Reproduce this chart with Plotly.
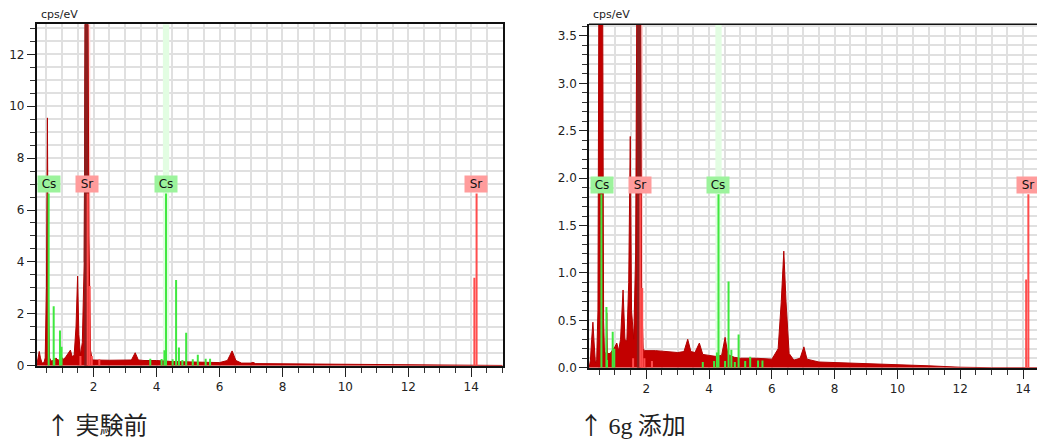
import plotly.graph_objects as go

# ---------------- data: 実験前 (left) ----------------
energy_before = [0.19, 0.22, 0.27, 0.31, 0.36, 0.42, 0.46, 0.50, 0.53, 0.56, 0.60, 0.65, 0.72, 0.80, 0.88,
                 0.95, 1.00, 1.05, 1.12, 1.20, 1.26, 1.32, 1.38, 1.44, 1.49, 1.53, 1.58, 1.64, 1.70, 1.73,
                 1.78, 1.82, 1.85, 1.87, 1.90, 1.95, 2.0, 2.5, 3.0, 3.2, 3.32, 3.42, 3.6, 4.0, 4.5, 5.0,
                 5.5, 6.0, 6.25, 6.4, 6.52, 6.7, 7.0, 7.06, 7.15, 8.0, 9.0, 10.0, 11.0, 12.0, 13.0, 15.0]
cps_before = [0.0, 0.25, 0.55, 0.3, 0.1, 0.12, 0.3, 3.0, 9.55, 3.0, 0.3, 0.18, 0.2, 0.3, 0.2,
              0.35, 0.3, 0.25, 0.35, 0.5, 0.6, 0.35, 0.4, 1.5, 3.45, 1.2, 0.4, 0.9, 4.0, 14.0,
              14.0, 14.0, 5.0, 3.0, 0.6, 0.25, 0.22, 0.21, 0.2, 0.22, 0.5, 0.22, 0.2, 0.2, 0.16, 0.15,
              0.13, 0.12, 0.2, 0.57, 0.2, 0.1, 0.1, 0.13, 0.08, 0.07, 0.06, 0.05, 0.03, 0.02, 0.01, 0.01]

cs_line_energy = [0.57, 0.73, 0.75, 0.93, 0.98, 3.80, 4.16, 4.25, 4.30, 4.51, 4.62, 4.71, 4.82, 4.94, 5.15, 5.31, 5.56, 5.70]
cs_line_before = [6.64, 2.29, 0.3, 1.36, 0.73, 0.27, 0.26, 0.6, 6.64, 0.25, 3.3, 0.7, 0.22, 1.27, 0.25, 0.42, 0.27, 0.27]
sr_line_energy = [1.58, 1.81, 1.87, 1.94, 2.18, 14.10, 14.17]
sr_line_before = [0.37, 6.64, 3.07, 0.37, 0.25, 3.39, 6.64]

# ---------------- data: 6g 添加 (right) ----------------
energy_added = [0.18, 0.22, 0.26, 0.30, 0.34, 0.38, 0.42, 0.46, 0.49, 0.55, 0.61, 0.64, 0.67, 0.72, 0.74,
                0.76, 0.85, 0.95, 1.00, 1.06, 1.12, 1.18, 1.26, 1.32, 1.38, 1.44, 1.49, 1.53, 1.60, 1.66,
                1.70, 1.82, 1.85, 1.90, 1.95, 2.3, 2.6, 3.0, 3.2, 3.32, 3.42, 3.55, 3.69, 3.8, 4.0, 4.2,
                4.4, 4.51, 4.6, 4.8, 5.0, 5.5, 6.0, 6.2, 6.3, 6.38, 6.45, 6.55, 6.7, 6.9, 7.02, 7.12,
                7.5, 8.0, 9.0, 10.0, 11.0, 12.0, 13.0, 14.7]
cps_added = [0.0, 0.08, 0.3, 0.48, 0.25, 0.05, 0.08, 0.6, 4.0, 4.0, 4.0, 0.5, 0.15, 0.16, 0.58,
             0.15, 0.15, 0.2, 0.22, 0.26, 0.18, 0.3, 0.82, 0.3, 0.28, 0.9, 2.44, 0.6, 0.3, 1.2,
             4.0, 4.0, 0.8, 0.2, 0.18, 0.18, 0.17, 0.16, 0.17, 0.30, 0.17, 0.16, 0.26, 0.14, 0.13, 0.12,
             0.13, 0.32, 0.14, 0.11, 0.1, 0.1, 0.09, 0.2, 0.7, 1.23, 0.7, 0.15, 0.08, 0.1, 0.22, 0.09,
             0.06, 0.055, 0.045, 0.035, 0.02, 0.005, 0.0, 0.0]

cs_line_added = [1.83, 0.64, 0.08, 0.38, 0.2, 0.06, 0.07, 0.16, 1.83, 0.07, 0.91, 0.19, 0.06, 0.35, 0.07, 0.115, 0.075, 0.075]
sr_line_added = [0.1, 1.83, 0.84, 0.1, 0.07, 0.93, 1.83]

# element labels
label_text = ["Cs", "Sr", "Cs", "Sr"]
label_energy_before = [0.57, 1.80, 4.30, 14.16]
label_energy_added = [0.58, 1.80, 4.29, 14.17]
label_height_before = 6.64
label_height_added = 1.83

# highlight bands (centre, half width)
band_element = ["Sr", "Cs"]
band_center = [1.81, 4.30]
band_half = [0.085, 0.10]

ARROW = "<span style='font-family:Noto Sans CJK JP'>↑</span>"
captions = [ARROW + " 実験前",
            ARROW + " <span style='font-family:Liberation Serif'>6g</span> 添加"]

SPEC_FILL = "#c20000"
SPEC_LINE = "#b00000"
CS_COLOR = "#3fe83f"
SR_COLOR = "#ff4d4d"
CS_BG = "#9cf39c"
SR_BG = "#ff9c9c"
BAND_COLOR = {"Cs": "#e2fde2", "Sr": "#ffd3d3"}


def stick_xy(energies, heights):
    xs, ys = [], []
    for e, h in zip(energies, heights):
        xs += [e, e, None]
        ys += [0, h, None]
    return xs, ys


fig = go.Figure()

panels = [
    ("x", "y", energy_before, cps_before, cs_line_before, sr_line_before, label_energy_before, label_height_before, 13.156),
    ("x2", "y2", energy_added, cps_added, cs_line_added, sr_line_added, label_energy_added, label_height_added, 3.623),
]

for xa, ya, en, cps, csh, srh, lab_e, lab_h, ytop in panels:
    # highlight bands as filled traces behind the spectrum
    for el, c, hw in zip(band_element, band_center, band_half):
        fig.add_trace(go.Scatter(x=[c - hw, c - hw, c + hw, c + hw, c - hw], y=[0, ytop, ytop, 0, 0],
                                 xaxis=xa, yaxis=ya, mode="none", fill="toself",
                                 fillcolor=BAND_COLOR[el], hoverinfo="skip", showlegend=False))
    fig.add_trace(go.Scatter(x=en, y=cps, xaxis=xa, yaxis=ya, mode="lines", fill="tozeroy",
                             fillcolor=SPEC_FILL, line=dict(color=SPEC_LINE, width=1),
                             hoverinfo="skip", showlegend=False))
    # darker Sr peak region
    pk = [(e, c) for e, c in zip(en, cps) if 1.70 <= e <= 1.84]
    fig.add_trace(go.Scatter(x=[p[0] for p in pk], y=[p[1] for p in pk], xaxis=xa, yaxis=ya, mode="lines",
                             fill="tozeroy", fillcolor="#8e1e1e", line=dict(color="#8e1e1e", width=1),
                             hoverinfo="skip", showlegend=False))
    sx, sy = stick_xy(cs_line_energy, csh)
    fig.add_trace(go.Scatter(x=sx, y=sy, xaxis=xa, yaxis=ya, mode="lines",
                             line=dict(color=CS_COLOR, width=2), hoverinfo="skip", showlegend=False))
    sx, sy = stick_xy(sr_line_energy, srh)
    fig.add_trace(go.Scatter(x=sx, y=sy, xaxis=xa, yaxis=ya, mode="lines",
                             line=dict(color=SR_COLOR, width=2), hoverinfo="skip", showlegend=False))
    for t, e in zip(label_text, lab_e):
        fig.add_annotation(x=e, y=lab_h, xref=xa, yref=ya, text=t, showarrow=False,
                           xanchor="center", yanchor="bottom", bgcolor=CS_BG if t == "Cs" else SR_BG,
                           borderpad=1, borderwidth=1, bordercolor="rgba(0,0,0,0)", width=20,
                           font=dict(family="DejaVu Sans", size=12, color="#111"))

grid = "#e0e0e0"
tickfont = dict(family="DejaVu Sans", size=12, color="#222")


def xax(domain, rng, mirror):
    return dict(domain=domain, range=rng, tickmode="linear", tick0=0, dtick=2, ticks="outside",
                ticklen=9, tickwidth=1.3, tickcolor="#222", showgrid=True, gridcolor=grid, gridwidth=1.5,
                minor=dict(tick0=0, dtick=0.5, ticks="outside", ticklen=5, tickwidth=1.2, tickcolor="#333",
                           showgrid=True, gridcolor=grid, gridwidth=1.5),
                showline=True, linecolor="#111", linewidth=1.6, mirror=mirror, zeroline=False,
                tickfont=tickfont, fixedrange=True, automargin=False)


def yax(domain, rng, dtick, minor, fmt, anchor, mirror):
    return dict(domain=domain, range=rng, anchor=anchor, tickmode="linear", tick0=0, dtick=dtick,
                ticks="outside", ticklen=8, tickwidth=1.3, tickcolor="#222", tickformat=fmt,
                showgrid=True, gridcolor=grid, gridwidth=1.5,
                minor=dict(tick0=0, dtick=minor, ticks="outside", ticklen=5, tickwidth=1.2, tickcolor="#333",
                           showgrid=True, gridcolor=grid, gridwidth=1.5),
                showline=True, linecolor="#111", linewidth=1.6, mirror=mirror, zeroline=False,
                tickfont=tickfont, fixedrange=True, automargin=False)


# the page places the figure 8 px from the top-left corner, so work in page pixels minus 8
OFF = 8
W, H = 1045 - OFF, 441 - OFF
xl = [(36.7 - OFF) / W, (502.7 - OFF) / W]
xr = [(589 - OFF) / W, 1.0]
yl = [1 - (365.7 - OFF) / H, 1 - (24.3 - OFF) / H]
yr = [1 - (367.7 - OFF) / H, 1 - (24.3 - OFF) / H]

fig.update_layout(
    width=W, height=H, autosize=False,
    margin=dict(l=0, r=0, t=0, b=0, pad=0),
    paper_bgcolor="white", plot_bgcolor="white",
    xaxis=dict(xax(xl, [0.19, 15.0], True), anchor="y"),
    yaxis=yax(yl, [0, 13.156], 2, 0.5, "d", "x", True),
    xaxis2=dict(xax(xr, [0.175, 14.70], False), anchor="y2"),
    yaxis2=yax(yr, [0, 3.623], 0.5, 0.1, ".1f", "x2", False),
    showlegend=False,
)

# top border for the right panel (its right side runs off the page edge)
fig.add_shape(type="line", xref="paper", yref="paper", x0=xr[0], x1=1.0, y0=yr[1], y1=yr[1],
              line=dict(color="#111", width=1.6), layer="above")

# y-axis unit labels
for xd, yd in [(xl, yl), (xr, yr)]:
    fig.add_annotation(x=xd[0] + 2 / W, y=yd[1] + 1 / H, xref="paper", yref="paper", text="cps/eV",
                       showarrow=False, xanchor="left", yanchor="bottom",
                       font=dict(family="DejaVu Sans", size=11, color="#222"))

# captions
for cap, xp in zip(captions, [(44 - OFF) / W, (577 - OFF) / W]):
    fig.add_annotation(x=xp, y=1 - (423 - OFF) / H, xref="paper", yref="paper", text=cap, showarrow=False,
                       xanchor="left", yanchor="middle",
                       font=dict(family="Noto Sans CJK JP", size=24, color="#222"))

fig.write_html("out.html")
